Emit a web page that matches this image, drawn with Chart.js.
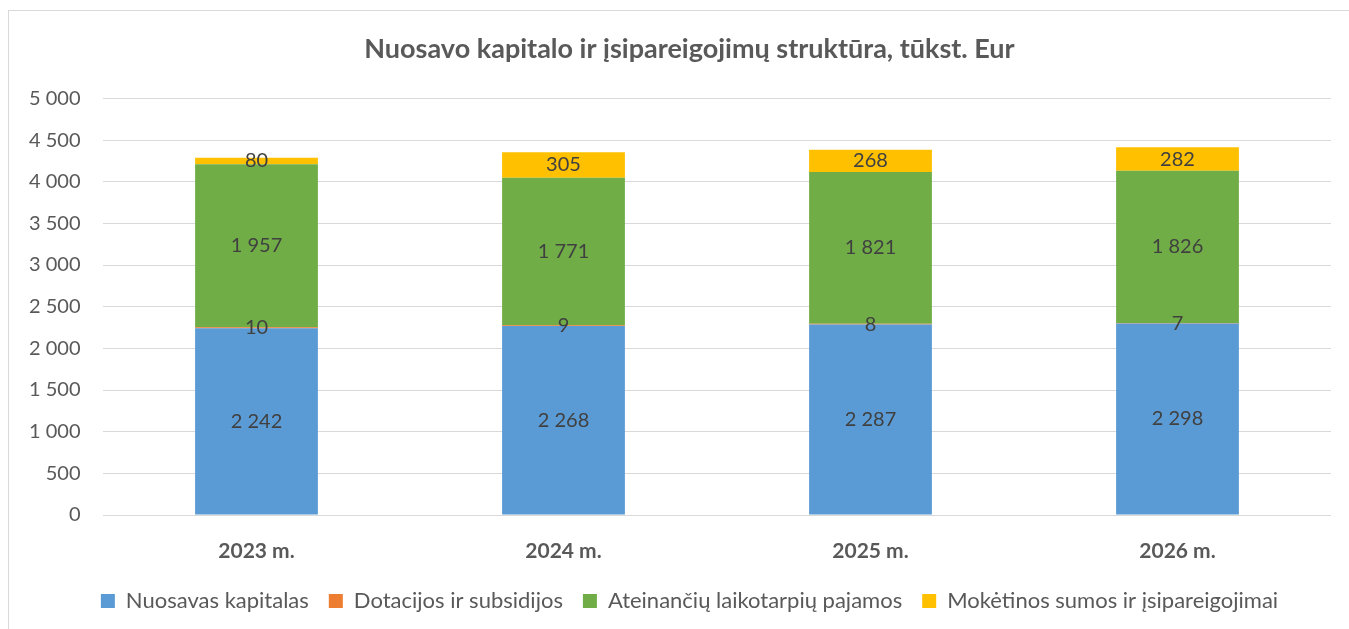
<!DOCTYPE html>
<html>
<head>
<meta charset="utf-8">
<script src="https://cdn.jsdelivr.net/npm/chart.js@4"></script>
<style>
    body { margin: 0; background: #fff; }
    #wrap { position: relative; width: 1349px; height: 629px; overflow: hidden; }
    #frame { position: absolute; left: 8px; top: 10px; width: 1345px; height: 630px; border: 1px solid #d9d9d9; box-sizing: border-box; }
    #chart { position: absolute; left: 0; top: 0; }
</style>
</head>
<body>
<div id="wrap">
    <div id="frame"></div>
    <canvas id="chart" width="1349" height="629"></canvas>
</div>
<script>
const years = ['2023 m.', '2024 m.', '2025 m.', '2026 m.'];
const nuosavas = [2242, 2268, 2287, 2298];
const dotacijos = [10, 9, 8, 7];
const ateinanciu = [1957, 1771, 1821, 1826];
const moketinos = [80, 305, 268, 282];
const seriesNames = ['Nuosavas kapitalas', 'Dotacijos ir subsidijos', 'Ateinančių laikotarpių pajamos', 'Mokėtinos sumos ir įsipareigojimai'];
const colors = ['#5b9bd5', '#ed7d31', '#70ad47', '#ffc000'];

const fmt = v => String(v).replace(/\B(?=(\d{3})+(?!\d))/g, ' ');
const font = 'Lato, "Open Sans", sans-serif';

// value labels in the middle of every segment
const segmentLabels = {
    id: 'segmentLabels',
    afterDatasetsDraw(chart) {
        const ctx = chart.ctx;
        ctx.save();
        ctx.font = '20px ' + font;
        ctx.fillStyle = '#404040';
        ctx.textAlign = 'center';
        ctx.textBaseline = 'middle';
        chart.data.datasets.forEach((ds, i) => {
            const meta = chart.getDatasetMeta(i);
            meta.data.forEach((bar, j) => {
                const y = (bar.y + bar.base) / 2;
                ctx.fillText(fmt(ds.data[j]), bar.x, y);
            });
        });
        ctx.restore();
    }
};

const data = [nuosavas, dotacijos, ateinanciu, moketinos];

new Chart(document.getElementById('chart'), {
    type: 'bar',
    data: {
        labels: years,
        datasets: data.map((d, i) => ({
            label: seriesNames[i],
            data: d,
            backgroundColor: colors[i],
            categoryPercentage: 1,
            barPercentage: 0.4
        }))
    },
    options: {
        responsive: false,
        animation: false,
        layout: { padding: { left: 48, right: 18, top: 0, bottom: 7 } },
        plugins: {
            title: {
                display: true,
                text: 'Nuosavo kapitalo ir įsipareigojimų struktūra, tūkst. Eur',
                color: '#595959',
                font: { family: font, size: 27, weight: 'bold' },
                padding: { top: 33, bottom: 33 }
            },
            legend: {
                position: 'bottom',
                labels: {
                    color: '#595959',
                    font: { family: font, size: 22 },
                    boxWidth: 14,
                    boxHeight: 14,
                    padding: 20
                }
            },
            tooltip: { enabled: false }
        },
        scales: {
            x: {
                stacked: true,
                afterFit: scale => { scale.height = 55; },
                grid: { display: false },
                border: { display: false },
                ticks: { color: '#595959', font: { family: font, size: 21, weight: 'bold' }, padding: 16 }
            },
            y: {
                stacked: true,
                min: 0,
                max: 5000,
                afterFit: scale => { scale.width = 55; },
                grid: { color: '#d9d9d9', drawTicks: false, lineWidth: 1 },
                border: { display: false },
                ticks: {
                    stepSize: 500,
                    mirror: true,
                    crossAlign: 'far',
                    padding: -74,
                    color: '#595959',
                    font: { family: font, size: 20 },
                    callback: v => fmt(v)
                }
            }
        }
    },
    plugins: [segmentLabels]
});
</script>
</body>
</html>
